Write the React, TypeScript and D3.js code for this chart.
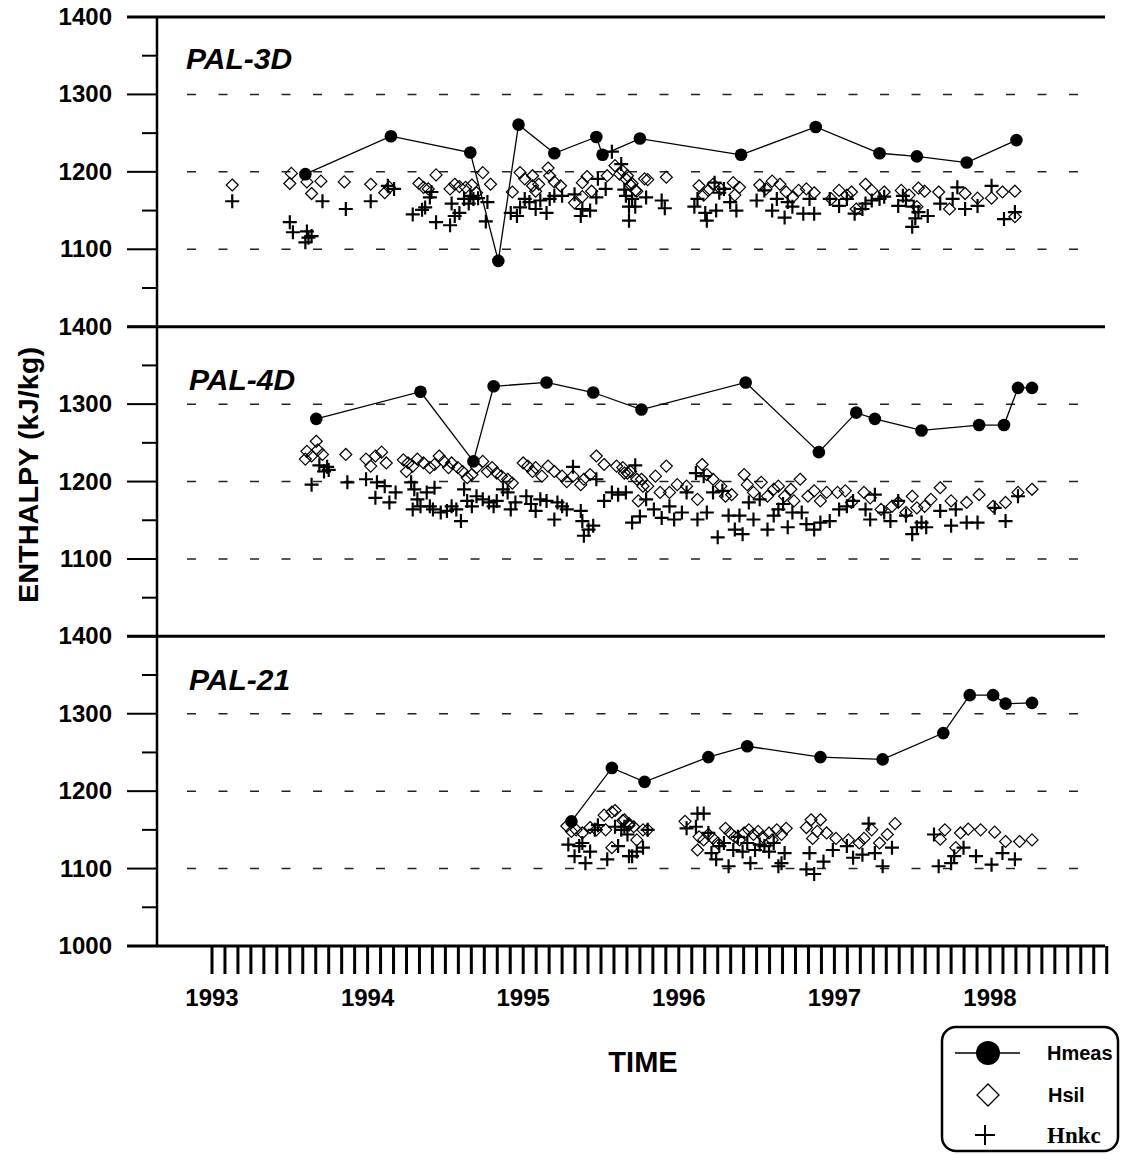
import React from 'react';
import * as d3 from 'd3';

type P = [number, number];

const yearTicks = [1993, 1994, 1995, 1996, 1997, 1998];
const yTickValues = [1400, 1300, 1200, 1100];
const gridValues = [1300, 1200, 1100];
const minorValues = [1350, 1250, 1150, 1050];
const panelNames = ['PAL-3D', 'PAL-4D', 'PAL-21'];
const legendLabels = ['Hmeas', 'Hsil', 'Hnkc'];

// ---- PAL-3D ----
const pal3dMeas: P[] = [
  [1993.60, 1197], [1994.15, 1246], [1994.66, 1225], [1994.84, 1085], [1994.97, 1261],
  [1995.20, 1224], [1995.47, 1245], [1995.51, 1222], [1995.75, 1243], [1996.40, 1222],
  [1996.88, 1258], [1997.29, 1224], [1997.53, 1220], [1997.85, 1212], [1998.17, 1241],
];
const pal3dSil: P[] = [
  [1993.13, 1183], [1993.51, 1198], [1993.50, 1185], [1993.61, 1187], [1993.64, 1172], [1993.70, 1188],
  [1993.85, 1187], [1994.02, 1184], [1994.11, 1173], [1994.14, 1180], [1994.33, 1185], [1994.36, 1180],
  [1994.39, 1178], [1994.44, 1196], [1994.53, 1178], [1994.56, 1184], [1994.59, 1181], [1994.63, 1180],
  [1994.67, 1183], [1994.74, 1199], [1994.79, 1184], [1994.70, 1173], [1994.93, 1174], [1994.98, 1199],
  [1995.01, 1191], [1995.06, 1195], [1995.06, 1182], [1995.10, 1184], [1995.16, 1205], [1995.17, 1195],
  [1995.20, 1187], [1995.24, 1182], [1995.08, 1175], [1995.33, 1160], [1995.38, 1186], [1995.41, 1194],
  [1995.44, 1175], [1995.38, 1168], [1995.54, 1195], [1995.59, 1208], [1995.62, 1197], [1995.66, 1191],
  [1995.69, 1183], [1995.73, 1175], [1995.78, 1191], [1995.64, 1201], [1995.67, 1195], [1995.70, 1185],
  [1995.72, 1176], [1995.80, 1190], [1995.92, 1193], [1996.13, 1182], [1996.16, 1170], [1996.19, 1176],
  [1996.22, 1184], [1996.27, 1178], [1996.35, 1186], [1996.39, 1180], [1996.36, 1170], [1996.52, 1183],
  [1996.56, 1178], [1996.60, 1188], [1996.65, 1184], [1996.69, 1174], [1996.73, 1167], [1996.77, 1176],
  [1996.82, 1178], [1996.87, 1173], [1996.98, 1165], [1997.03, 1176], [1997.08, 1170], [1997.11, 1174],
  [1997.14, 1152], [1997.20, 1184], [1997.24, 1176], [1997.32, 1174], [1997.43, 1176], [1997.48, 1170],
  [1997.54, 1179], [1997.58, 1175], [1997.53, 1155], [1997.67, 1174], [1997.74, 1152], [1997.84, 1172],
  [1997.92, 1166], [1998.01, 1166], [1998.08, 1174], [1998.16, 1175], [1998.16, 1142],
];
const pal3dNkc: P[] = [
  [1993.13, 1162], [1993.50, 1135], [1993.52, 1122], [1993.61, 1123], [1993.62, 1115], [1993.60, 1109],
  [1993.64, 1117], [1993.71, 1162], [1993.86, 1152], [1994.02, 1162], [1994.13, 1182], [1994.17, 1178],
  [1994.29, 1145], [1994.35, 1151], [1994.37, 1154], [1994.40, 1167], [1994.41, 1174], [1994.44, 1135],
  [1994.53, 1131], [1994.54, 1159], [1994.56, 1143], [1994.59, 1147], [1994.62, 1165], [1994.65, 1159],
  [1994.66, 1169], [1994.68, 1165], [1994.71, 1166], [1994.77, 1161], [1994.76, 1136], [1994.92, 1147],
  [1994.96, 1143], [1994.98, 1154], [1995.01, 1165], [1995.04, 1161], [1995.08, 1152], [1995.11, 1163],
  [1995.15, 1147], [1995.17, 1165], [1995.20, 1169], [1995.25, 1169], [1995.33, 1171], [1995.37, 1143],
  [1995.38, 1152], [1995.43, 1150], [1995.47, 1167], [1995.48, 1191], [1995.53, 1178], [1995.57, 1226],
  [1995.63, 1210], [1995.66, 1169], [1995.68, 1155], [1995.68, 1137], [1995.72, 1155], [1995.79, 1167],
  [1995.65, 1177], [1995.70, 1165], [1995.89, 1163], [1995.91, 1153], [1996.10, 1155], [1996.12, 1165],
  [1996.17, 1147], [1996.18, 1137], [1996.24, 1150], [1996.23, 1186], [1996.26, 1173], [1996.33, 1161],
  [1996.37, 1150], [1996.29, 1178], [1996.50, 1163], [1996.55, 1176], [1996.60, 1150], [1996.63, 1165],
  [1996.68, 1141], [1996.70, 1161], [1996.73, 1155], [1996.80, 1146], [1996.84, 1165], [1996.87, 1146],
  [1996.97, 1165], [1997.03, 1156], [1997.08, 1165], [1997.13, 1146], [1997.18, 1152], [1997.20, 1159],
  [1997.24, 1163], [1997.29, 1165], [1997.32, 1168], [1997.41, 1156], [1997.44, 1169], [1997.46, 1163],
  [1997.51, 1155], [1997.50, 1129], [1997.52, 1140], [1997.54, 1148], [1997.60, 1143], [1997.68, 1159],
  [1997.76, 1165], [1997.79, 1180], [1997.84, 1152], [1997.92, 1156], [1998.01, 1182], [1998.09, 1139],
  [1998.16, 1148],
];

// ---- PAL-4D ----
const pal4dMeas: P[] = [
  [1993.67, 1281], [1994.34, 1316], [1994.68, 1226], [1994.81, 1323], [1995.15, 1328],
  [1995.45, 1315], [1995.76, 1293], [1996.43, 1328], [1996.90, 1238], [1997.14, 1289],
  [1997.26, 1281], [1997.56, 1266], [1997.93, 1273], [1998.09, 1273], [1998.18, 1321], [1998.27, 1321],
];
const pal4dSil: P[] = [
  [1993.67, 1252], [1993.61, 1239], [1993.60, 1229], [1993.64, 1233], [1993.68, 1241], [1993.71, 1235],
  [1993.86, 1235], [1993.99, 1229], [1994.02, 1220], [1994.05, 1233], [1994.09, 1238], [1994.12, 1224],
  [1994.23, 1228], [1994.26, 1224], [1994.29, 1220], [1994.25, 1213], [1994.32, 1229], [1994.36, 1224],
  [1994.40, 1218], [1994.43, 1222], [1994.46, 1233], [1994.49, 1226], [1994.52, 1218], [1994.54, 1224],
  [1994.58, 1218], [1994.61, 1213], [1994.64, 1205], [1994.67, 1209], [1994.70, 1218], [1994.74, 1226],
  [1994.77, 1213], [1994.80, 1218], [1994.83, 1211], [1994.86, 1207], [1994.90, 1203], [1994.93, 1198],
  [1995.00, 1224], [1995.03, 1220], [1995.06, 1213], [1995.08, 1218], [1995.12, 1207], [1995.16, 1220],
  [1995.20, 1213], [1995.25, 1207], [1995.28, 1200], [1995.32, 1207], [1995.37, 1196], [1995.39, 1203],
  [1995.43, 1209], [1995.47, 1233], [1995.52, 1222], [1995.60, 1220], [1995.65, 1211], [1995.69, 1213],
  [1995.73, 1203], [1995.77, 1194], [1995.74, 1175], [1995.64, 1218], [1995.67, 1211], [1995.76, 1203],
  [1995.80, 1194], [1995.85, 1207], [1995.92, 1220], [1995.88, 1186], [1995.94, 1186], [1995.99, 1196],
  [1996.05, 1194], [1996.12, 1177], [1996.15, 1222], [1996.18, 1209], [1996.22, 1203], [1996.27, 1194],
  [1996.30, 1181], [1996.34, 1183], [1996.42, 1209], [1996.44, 1196], [1996.48, 1186], [1996.53, 1199],
  [1996.57, 1181], [1996.61, 1190], [1996.64, 1194], [1996.68, 1181], [1996.72, 1190], [1996.74, 1175],
  [1996.78, 1203], [1996.83, 1181], [1996.87, 1188], [1996.91, 1175], [1996.95, 1186], [1997.02, 1186],
  [1997.07, 1188], [1997.11, 1173], [1997.19, 1186], [1997.23, 1179], [1997.30, 1164], [1997.37, 1168],
  [1997.41, 1173], [1997.46, 1160], [1997.50, 1181], [1997.53, 1166], [1997.58, 1168], [1997.62, 1177],
  [1997.68, 1192], [1997.75, 1175], [1997.85, 1173], [1997.93, 1183], [1998.02, 1168], [1998.10, 1173],
  [1998.18, 1186], [1998.27, 1190],
];
const pal4dNkc: P[] = [
  [1993.64, 1196], [1993.69, 1221], [1993.74, 1219], [1993.72, 1213], [1993.75, 1215], [1993.87, 1199],
  [1993.99, 1203], [1994.06, 1199], [1994.11, 1194], [1994.05, 1179], [1994.14, 1173], [1994.18, 1186],
  [1994.28, 1199], [1994.30, 1190], [1994.29, 1164], [1994.32, 1177], [1994.34, 1168], [1994.38, 1186],
  [1994.40, 1168], [1994.43, 1192], [1994.42, 1164], [1994.47, 1160], [1994.51, 1162], [1994.54, 1168],
  [1994.57, 1164], [1994.60, 1149], [1994.62, 1190], [1994.64, 1175], [1994.67, 1168], [1994.70, 1181],
  [1994.74, 1177], [1994.78, 1173], [1994.81, 1168], [1994.83, 1175], [1994.87, 1190], [1994.90, 1186],
  [1994.92, 1164], [1994.95, 1173], [1995.02, 1181], [1995.05, 1171], [1995.08, 1162], [1995.11, 1177],
  [1995.15, 1175], [1995.20, 1151], [1995.22, 1173], [1995.25, 1168], [1995.28, 1164], [1995.32, 1219],
  [1995.37, 1162], [1995.38, 1149], [1995.39, 1130], [1995.42, 1138], [1995.45, 1143], [1995.47, 1203],
  [1995.52, 1175], [1995.57, 1186], [1995.61, 1183], [1995.66, 1186], [1995.70, 1147], [1995.72, 1221],
  [1995.75, 1155], [1995.79, 1177], [1995.84, 1164], [1995.89, 1153], [1995.94, 1168], [1995.97, 1151],
  [1996.02, 1160], [1996.05, 1186], [1996.12, 1151], [1996.18, 1160], [1996.11, 1211], [1996.16, 1207],
  [1996.22, 1186], [1996.25, 1128], [1996.28, 1188], [1996.32, 1156], [1996.36, 1138], [1996.41, 1132],
  [1996.39, 1156], [1996.45, 1173], [1996.48, 1151], [1996.52, 1177], [1996.57, 1138], [1996.61, 1156],
  [1996.64, 1164], [1996.67, 1171], [1996.70, 1141], [1996.73, 1160], [1996.79, 1160], [1996.82, 1145],
  [1996.87, 1138], [1996.91, 1147], [1996.97, 1149], [1997.03, 1164], [1997.08, 1168], [1997.12, 1175],
  [1997.20, 1164], [1997.23, 1151], [1997.26, 1183], [1997.32, 1160], [1997.36, 1149], [1997.41, 1175],
  [1997.46, 1156], [1997.50, 1132], [1997.53, 1141], [1997.56, 1147], [1997.59, 1141], [1997.68, 1162],
  [1997.75, 1143], [1997.78, 1164], [1997.85, 1147], [1997.92, 1147], [1998.03, 1166], [1998.10, 1149],
  [1998.18, 1181],
];

// ---- PAL-21 ----
const pal21Meas: P[] = [
  [1995.31, 1161], [1995.57, 1230], [1995.78, 1212], [1996.19, 1244], [1996.44, 1258], [1996.91, 1244],
  [1997.31, 1241], [1997.70, 1275], [1997.87, 1324], [1998.02, 1324], [1998.10, 1313], [1998.27, 1314],
];
const pal21Sil: P[] = [
  [1995.28, 1155], [1995.31, 1148], [1995.34, 1150], [1995.38, 1146], [1995.43, 1153], [1995.47, 1150],
  [1995.52, 1169], [1995.57, 1173], [1995.59, 1175], [1995.53, 1150], [1995.57, 1127], [1995.64, 1162],
  [1995.68, 1158], [1995.71, 1154], [1995.73, 1137], [1995.77, 1150], [1995.65, 1163], [1995.68, 1156],
  [1995.80, 1150], [1996.04, 1161], [1996.12, 1124], [1996.13, 1141], [1996.16, 1137], [1996.19, 1144],
  [1996.22, 1139], [1996.25, 1133], [1996.30, 1152], [1996.33, 1146], [1996.36, 1141], [1996.39, 1137],
  [1996.42, 1146], [1996.45, 1150], [1996.48, 1144], [1996.51, 1148], [1996.54, 1141], [1996.58, 1146],
  [1996.60, 1137], [1996.63, 1150], [1996.66, 1144], [1996.69, 1152], [1996.82, 1153], [1996.85, 1163],
  [1996.86, 1139], [1996.91, 1163], [1996.89, 1148], [1996.95, 1146], [1997.01, 1139], [1997.09, 1137],
  [1997.16, 1133], [1997.19, 1139], [1997.24, 1150], [1997.29, 1133], [1997.34, 1144], [1997.39, 1158],
  [1997.68, 1138], [1997.71, 1150], [1997.78, 1127], [1997.81, 1146], [1997.86, 1151], [1997.94, 1150],
  [1998.03, 1147], [1998.10, 1135], [1998.19, 1135], [1998.27, 1137],
];
const pal21Nkc: P[] = [
  [1995.29, 1131], [1995.33, 1116], [1995.36, 1129], [1995.38, 1133], [1995.40, 1107], [1995.43, 1122],
  [1995.46, 1150], [1995.48, 1156], [1995.54, 1112], [1995.59, 1154], [1995.61, 1129], [1995.63, 1150],
  [1995.68, 1116], [1995.73, 1122], [1995.77, 1127], [1995.65, 1154], [1995.67, 1144], [1995.70, 1116],
  [1995.80, 1150], [1996.05, 1152], [1996.12, 1171], [1996.16, 1171], [1996.11, 1154], [1996.19, 1146],
  [1996.21, 1120], [1996.24, 1112], [1996.26, 1129], [1996.29, 1133], [1996.32, 1103], [1996.35, 1124],
  [1996.38, 1141], [1996.41, 1122], [1996.44, 1133], [1996.46, 1107], [1996.49, 1124], [1996.52, 1131],
  [1996.55, 1129], [1996.58, 1122], [1996.61, 1133], [1996.64, 1103], [1996.66, 1107], [1996.68, 1120],
  [1996.82, 1099], [1996.87, 1093], [1996.84, 1120], [1996.93, 1109], [1996.99, 1124], [1997.08, 1129],
  [1997.12, 1114], [1997.18, 1118], [1997.22, 1158], [1997.26, 1120], [1997.31, 1103], [1997.37, 1127],
  [1997.64, 1144], [1997.67, 1103], [1997.75, 1107], [1997.77, 1116], [1997.83, 1127], [1997.91, 1116],
  [1998.01, 1105], [1998.08, 1120], [1998.16, 1112],
];

const panels = [
  { name: panelNames[0], meas: pal3dMeas, sil: pal3dSil, nkc: pal3dNkc },
  { name: panelNames[1], meas: pal4dMeas, sil: pal4dSil, nkc: pal4dNkc },
  { name: panelNames[2], meas: pal21Meas, sil: pal21Sil, nkc: pal21Nkc },
];

const W = 1121;
const H = 1154;
const axisX = 157;
const rightX = 1105;
const panelTops = [17, 326.7, 636.3];
const panelH = 309.7;
const labelY = [69, 390, 690];
const SANS = '"Liberation Sans", Arial, Helvetica, sans-serif';
const SERIF = '"Liberation Serif", "Times New Roman", serif';

const x = d3.scaleLinear().domain([1993, 1998]).range([212, 990]);
const monthTicks = d3.range(0, 70).map((i) => 1993 + i / 12);

function plusPath(cx: number, cy: number, s: number) {
  return `M${cx - s},${cy}H${cx + s}M${cx},${cy - s}V${cy + s}`;
}
function diamondPath(cx: number, cy: number, s: number) {
  return `M${cx},${cy - s}L${cx + s},${cy}L${cx},${cy + s}L${cx - s},${cy}Z`;
}

export default function App() {
  return (
    <svg width={W} height={H} style={{ position: 'absolute', left: 0, top: 0, background: '#fff' }}>
      <rect x={0} y={0} width={W} height={H} fill="#fff" />
      {panels.map((p, i) => {
        const top = panelTops[i];
        const y = d3.scaleLinear().domain([1000, 1400]).range([top + panelH, top]);
        const line = d3.line<P>().x((d) => x(d[0])).y((d) => y(d[1]));
        return (
          <g key={p.name}>
            <line x1={127} x2={rightX} y1={y(1400)} y2={y(1400)} stroke="#000" strokeWidth={3} />
            {gridValues.map((v) => (
              <line key={v} x1={187} x2={1095} y1={y(v)} y2={y(v)} stroke="#222" strokeWidth={1.5} strokeDasharray="9 22.5" />
            ))}
            {yTickValues.map((v) => (
              <g key={v}>
                <line x1={127} x2={axisX} y1={y(v)} y2={y(v)} stroke="#000" strokeWidth={2} />
                <text x={112} y={y(v) + 8} textAnchor="end" fontFamily={SANS} fontWeight="bold" fontSize={24}>{v}</text>
              </g>
            ))}
            {minorValues.map((v) => (
              <line key={v} x1={142} x2={axisX} y1={y(v)} y2={y(v)} stroke="#000" strokeWidth={2} />
            ))}
            <text x={[186, 189, 189][i]} y={labelY[i]} fontFamily={SANS} fontWeight="bold" fontStyle="italic" fontSize={30}>{p.name}</text>
            {p.sil.map((d, k) => (
              <path key={'s' + k} d={diamondPath(x(d[0]), y(d[1]), 6)} fill="none" stroke="#000" strokeWidth={1.2} />
            ))}
            {p.nkc.map((d, k) => (
              <path key={'n' + k} d={plusPath(x(d[0]), y(d[1]), 7)} fill="none" stroke="#000" strokeWidth={2.2} />
            ))}
            <path d={line(p.meas) || ''} fill="none" stroke="#000" strokeWidth={1.3} />
            {p.meas.map((d, k) => (
              <circle key={'m' + k} cx={x(d[0])} cy={y(d[1])} r={6.3} fill="#000" />
            ))}
          </g>
        );
      })}
      <line x1={127} x2={rightX} y1={946} y2={946} stroke="#000" strokeWidth={3} />
      <text x={112} y={954} textAnchor="end" fontFamily={SANS} fontWeight="bold" fontSize={24}>1000</text>
      <line x1={axisX} x2={axisX} y1={16} y2={947} stroke="#000" strokeWidth={2.5} />
      {monthTicks.map((t, k) => (
        <line key={k} x1={x(t)} x2={x(t)} y1={946} y2={974} stroke="#000" strokeWidth={3} />
      ))}
      {yearTicks.map((t) => (
        <text key={t} x={x(t)} y={1006} textAnchor="middle" fontFamily={SANS} fontWeight="bold" fontSize={24}>{t}</text>
      ))}
      <text x={643} y={1072} textAnchor="middle" fontFamily={SANS} fontWeight="bold" fontSize={29}>TIME</text>
      <text transform="translate(38,475) rotate(-90)" textAnchor="middle" fontFamily={SANS} fontWeight="bold" fontSize={27} textLength={256} lengthAdjust="spacingAndGlyphs">ENTHALPY (kJ/kg)</text>
      <rect x={942} y={1027} width={176} height={124} rx={14} ry={14} fill="#fff" stroke="#000" strokeWidth={2.5} />
      <line x1={955} x2={1020} y1={1053} y2={1053} stroke="#000" strokeWidth={1.5} />
      <circle cx={988} cy={1053} r={12} fill="#000" />
      <text x={1047} y={1060} fontFamily={SANS} fontWeight="bold" fontSize={20}>{legendLabels[0]}</text>
      <path d={diamondPath(988, 1095, 11)} fill="none" stroke="#000" strokeWidth={1.3} />
      <text x={1048} y={1102} fontFamily={SANS} fontWeight="bold" fontSize={20}>{legendLabels[1]}</text>
      <path d={plusPath(985, 1135, 10)} fill="none" stroke="#000" strokeWidth={2} />
      <text x={1047} y={1143} fontFamily={SERIF} fontWeight="bold" fontSize={23}>{legendLabels[2]}</text>
    </svg>
  );
}
